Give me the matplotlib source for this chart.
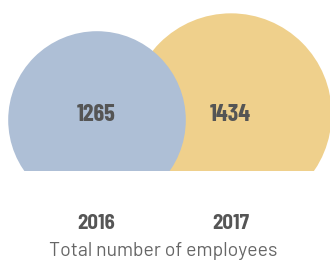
import matplotlib.pyplot as plt
from matplotlib.patches import Circle, Rectangle

years = ['2016', '2017']
employees = [1265, 1434]
colors = ['#aebfd6', '#efd08c']
caption = 'Total number of employees'

# layout in pixel units (figure is 330x264)
centers_x = [97, 231]
centers_y = [120, 114]
scale = 0.0702  # radius per employee
clip_y = 171

fig = plt.figure(figsize=(3.3, 2.64), dpi=100)
ax = fig.add_axes([0, 0, 1, 1])
ax.set_xlim(0, 330)
ax.set_ylim(264, 0)
ax.set_aspect('equal')
ax.axis('off')

clip = Rectangle((0, 0), 330, clip_y, transform=ax.transData)
for i in range(len(years)):
    c = Circle((centers_x[i], centers_y[i]), employees[i] * scale,
               facecolor=colors[i], edgecolor='none', zorder=3 - i)
    ax.add_patch(c)
    c.set_clip_path(clip)
    ax.text(centers_x[i] - 0.5, 112.5, str(employees[i]), ha='center', va='center_baseline',
            fontsize=17.5, fontweight='bold', color='#555555',
            family='Barlow Condensed', zorder=5)
    ax.text(centers_x[i] - 0.5, 221.5, years[i], ha='center', va='center_baseline',
            fontsize=15, fontweight='bold', color='#555555',
            family='Barlow Semi Condensed', zorder=5)

ax.text(163.5, 249.5, caption, ha='center', va='center_baseline', fontsize=14,
        color='#666666', family='Barlow')

fig.savefig('out.png', dpi=100)
